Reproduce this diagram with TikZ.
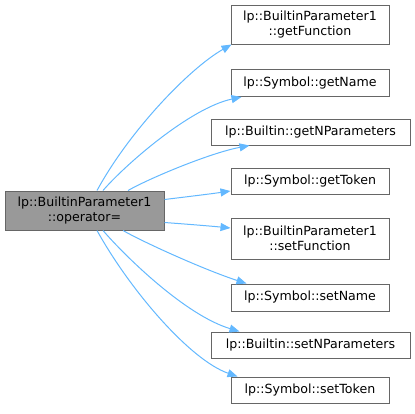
\documentclass[tikz,border=0pt]{standalone}
\usepackage{fontspec}
\setmainfont{DejaVu Sans}
\usetikzlibrary{arrows.meta,calc}
\definecolor{edgeblue}{HTML}{63B8FF}
\definecolor{boxborder}{HTML}{666666}
\definecolor{srcfill}{HTML}{999999}
\tikzset{
  fn/.style={draw=boxborder, line width=1pt, fill=white, inner sep=0pt, align=center,
    font=\fontsize{12.6}{15}\selectfont, text=black},
  srcbox/.style={fn, fill=srcfill},
  call/.style={draw=edgeblue, line width=1pt, -{Triangle[length=10pt,width=8pt]}, edgeblue}
}
\begin{document}
\begin{tikzpicture}[x=1pt,y=-1pt]
\useasboundingbox (0,0) rectangle (415,413);
\node[srcbox, minimum width=159pt, minimum height=39pt] (src) at (84.5,210.5) {lp::BuiltinParameter1\\::operator=};
\node[fn, minimum width=158pt, minimum height=39pt] (t1) at (310,24.5) {lp::BuiltinParameter1\\::getFunction};
\node[fn, minimum width=158pt, minimum height=27pt] (t2) at (310,83) {lp::Symbol::getName};
\node[fn, minimum width=199pt, minimum height=26pt] (t3) at (310.5,132) {lp::Builtin::getNParameters};
\node[fn, minimum width=158pt, minimum height=26pt] (t4) at (310,181) {lp::Symbol::getToken};
\node[fn, minimum width=158pt, minimum height=41pt] (t5) at (310,238.5) {lp::BuiltinParameter1\\::setFunction};
\node[fn, minimum width=158pt, minimum height=27pt] (t6) at (310,297.5) {lp::Symbol::setName};
\node[fn, minimum width=199pt, minimum height=26pt] (t7) at (310.5,345) {lp::Builtin::setNParameters};
\node[fn, minimum width=158pt, minimum height=26pt] (t8) at (310,390) {lp::Symbol::setToken};

\draw[call] ($(src.north)+(12.5,0)$) .. controls (130,130) and (190,68) .. ($(t1.south west)+(1,0)$);
\draw[call] ($(src.north)+(18.5,0)$) .. controls (125,165) and (190,108) .. ($(t2.south west)+(11,0)$);
\draw[call] ($(src.north)+(43.5,0)$) .. controls (150,178) and (210,153) .. ($(t3.south west)+(39,0)$);
\draw[call] ($(src.north east)+(0,9)$) .. controls (185,197) and (210,194) .. ($(t4.west)+(0,10)$);
\draw[call] ($(src.south east)+(0,-8)$) .. controls (185,224) and (210,226) .. ($(t5.west)+(0,-10.5)$);
\draw[call] ($(src.south)+(38.5,0)$) .. controls (145,243) and (205,270) .. ($(t6.north west)+(16,0)$);
\draw[call] ($(src.south)+(18.5,0)$) .. controls (125,256) and (185,315) .. ($(t7.north west)+(29,0)$);
\draw[call] ($(src.south)+(12.5,0)$) .. controls (130,290) and (190,360) .. ($(t8.north west)+(7,0)$);
\end{tikzpicture}
\end{document}
